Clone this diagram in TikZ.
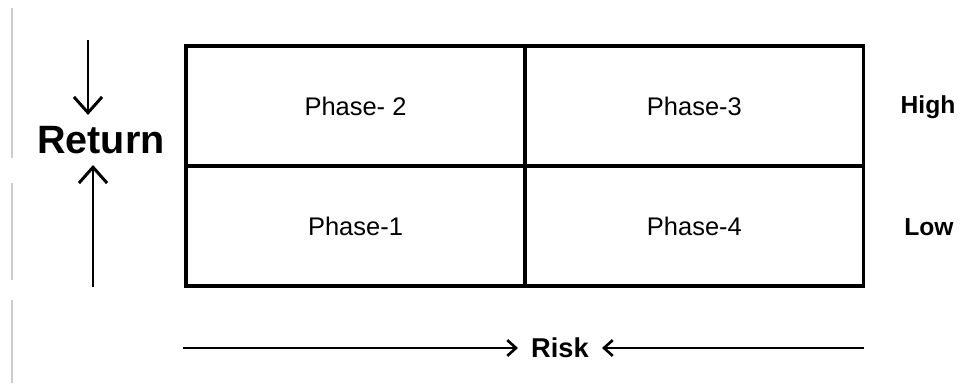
\documentclass[tikz,border=0pt]{standalone}
\usepackage{fontspec}
\setmainfont{Liberation Sans}
\usetikzlibrary{arrows.meta}
\usetikzlibrary{positioning}

\begin{document}
\begin{tikzpicture}[x=0.02cm, y=-0.02cm, >=Stealth,
        cell/.style={draw, line width=1.8pt, minimum width=6.78cm, minimum height=2.4cm,
                     inner sep=0pt, outer sep=0pt, font=\fontsize{14.5}{16}\selectfont},
        level/.style={font=\bfseries\fontsize{14}{16}\selectfont},
        bigarrow/.style={line width=1.7pt, -{Straight Barb[length=9pt, width=16pt, line width=1.7pt]}},
        riskarrow/.style={line width=1.5pt, shorten >=4pt, -{Straight Barb[length=5pt, width=9pt, line width=1.5pt]}},
        node distance=0pt]
        \useasboundingbox (0,0) rectangle (980,388);

        % Faint edge of the page
        \draw[gray!40, line width=1.2pt] (12,8) -- (12,158);
        \draw[gray!40, line width=1.2pt] (12,183) -- (12,280);
        \draw[gray!40, line width=1.2pt] (12,300) -- (12,383);

        % Draw the four phases
        \node[cell] (phaseone) at (355.5,226) {Phase-1};
        \node[cell, above=of phaseone] (phasetwo) {Phase- 2};
        \node[cell, right=of phasetwo] (phasethree) {Phase-3};
        \node[cell, right=of phaseone] (phasefour) {Phase-4};

        % Label the rows
        \node[level] (high) at (928,107) {High};
        \node[level] (low) at (929,227) {Low};

        % Return axis
        \node[font=\bfseries\fontsize{22.5}{24}\selectfont] (return) at (101,140) {Return};
        \coordinate (rtop) at (88,40);
        \coordinate (rbot) at (93,287);
        \draw[bigarrow] (rtop) -- (88,115);
        \draw[bigarrow] (rbot) -- (93,165);

        % Risk axis
        \node[font=\bfseries\fontsize{15.5}{18}\selectfont] (risk) at (560,348) {Risk};
        \coordinate (rleft) at (183,348);
        \coordinate (rright) at (864,348);
        \draw[riskarrow] (rleft) -- (risk.west);
        \draw[riskarrow] (rright) -- (risk.east);
    \end{tikzpicture}
\end{document}
